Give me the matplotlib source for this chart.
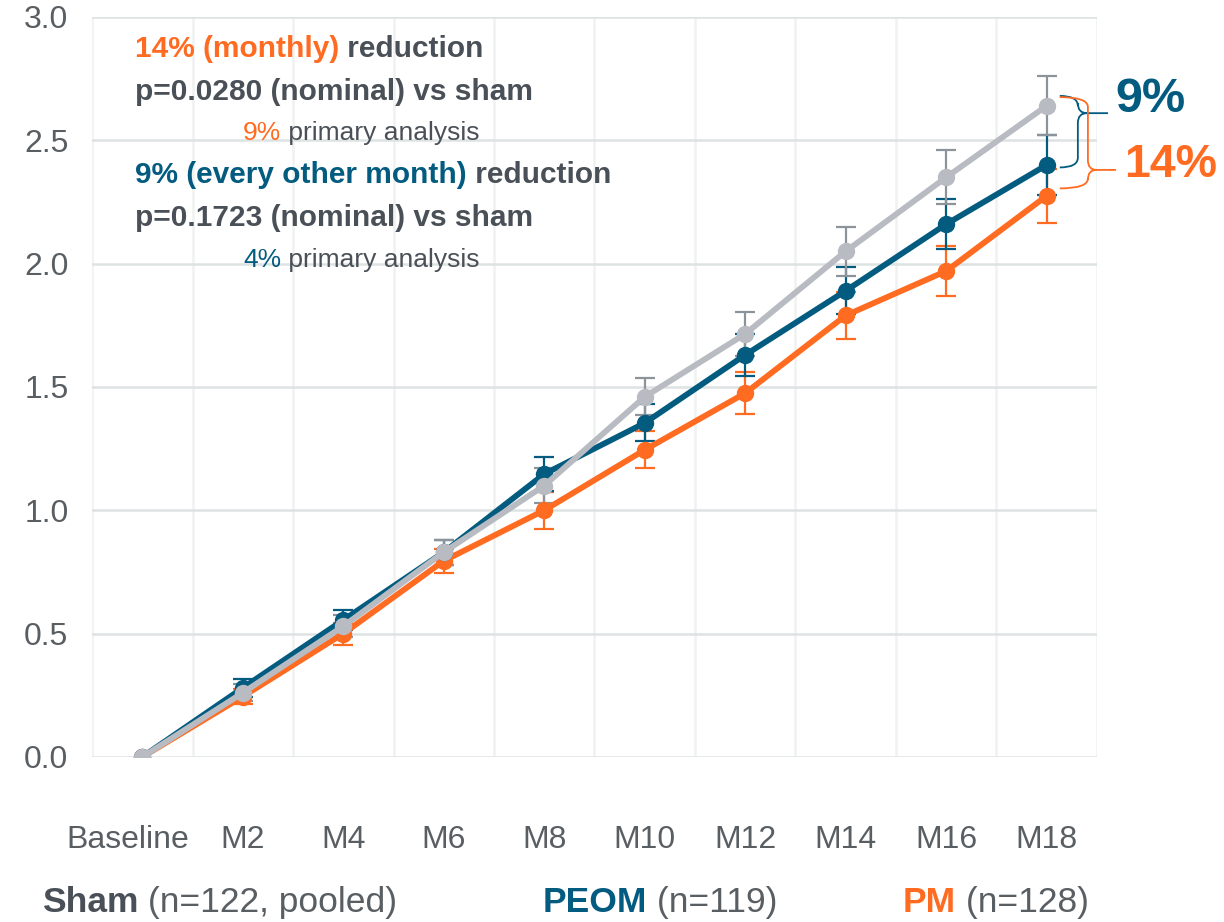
import numpy as np
import matplotlib.pyplot as plt
import matplotlib.transforms as mtransforms
from matplotlib.path import Path
from matplotlib.patches import PathPatch

# Datos
visitas = ['Baseline', 'M2', 'M4', 'M6', 'M8', 'M10', 'M12', 'M14', 'M16', 'M18']
sham = [0.0, 0.26, 0.53, 0.83, 1.10, 1.46, 1.715, 2.05, 2.35, 2.64]
peom = [0.0, 0.28, 0.555, 0.83, 1.147, 1.354, 1.63, 1.89, 2.16, 2.40]
pm = [0.0, 0.245, 0.50, 0.795, 1.0, 1.245, 1.475, 1.79, 1.97, 2.275]
err_sham = [0.0, 0.035, 0.045, 0.05, 0.07, 0.075, 0.09, 0.10, 0.11, 0.12]
err_peom = [0.0, 0.035, 0.04, 0.05, 0.07, 0.075, 0.085, 0.095, 0.10, 0.12]
err_pm = [0.0, 0.03, 0.045, 0.05, 0.075, 0.075, 0.085, 0.095, 0.10, 0.11]

naranja = '#ff6b21'
azul = '#035c80'
gris = '#b8bcc2'
gris_barra = '#8d939a'
texto = '#4a5057'
eje = '#595e63'

plt.rcParams['font.family'] = ['Liberation Sans', 'DejaVu Sans']

fig = plt.figure(figsize=(12.24, 9.22), dpi=100)
ax = fig.add_axes([0.0752, 0.179, 0.8210, 0.8026])

x = np.arange(len(visitas))

# Curvas: PM abajo, PEOM, Sham arriba
for y, e, c, ce in [(pm, err_pm, naranja, naranja),
                    (peom, err_peom, azul, azul),
                    (sham, err_sham, gris, gris_barra)]:
    ax.errorbar(x[1:], y[1:], yerr=e[1:], fmt='none', ecolor=ce,
                elinewidth=1.6, capsize=7, capthick=1.6, zorder=3)
    ax.plot(x, y, '-o', color=c, lw=4.2, ms=11.5, zorder=4)

ax.set_xlim(-0.5, 9.5)
ax.set_ylim(0, 3.0)
ax.set_yticks(np.arange(0, 3.01, 0.5))
ax.set_yticklabels(['{:.1f}'.format(v) for v in np.arange(0, 3.01, 0.5)])
ax.set_xticks(x)
ax.set_xticklabels(visitas)
ax.set_xticks(np.arange(-0.5, 9.6, 0.5), minor=True)
ax.tick_params(axis='both', length=0, labelsize=23, labelcolor=eje)
ax.tick_params(axis='y', pad=17)
ax.tick_params(axis='x', pad=49)
ax.tick_params(which='minor', length=0)
ax.grid(axis='x', which='minor', color='#f0f1f1', lw=1.8, zorder=0)
ax.grid(axis='y', which='major', color='#dde2e2', lw=1.8, zorder=0)
ax.set_axisbelow(True)
for s in ax.spines.values():
    s.set_visible(False)

# "Baseline" un poco corrido a la izquierda
lab0 = ax.get_xticklabels()[0]
lab0.set_transform(lab0.get_transform() +
                   mtransforms.ScaledTranslation(-15 / 100, 0, fig.dpi_scale_trans))

fig.canvas.draw()
rend = fig.canvas.get_renderer()


def linea(partes, x0, y0, size):
    """Escribe segmentos de texto con distintos colores uno al lado del otro (en pixeles)."""
    xp = x0
    for s, c, w in partes:
        t = fig.text(xp / 1224, 1 - y0 / 922, s, color=c, fontsize=size,
                     fontweight=w, va='center', ha='left')
        bb = t.get_window_extent(renderer=rend)
        xp += bb.width


linea([('14% (monthly)', naranja, 'bold'), (' reduction', texto, 'bold')], 135, 49, 21.5)
linea([('p=0.0280 (nominal) vs sham', texto, 'bold')], 135, 92, 21.5)
linea([('9%', naranja, 'normal'), (' primary analysis', texto, 'normal')], 243, 133, 19)
linea([('9% (every other month)', azul, 'bold'), (' reduction', texto, 'bold')], 135, 175, 21.5)
linea([('p=0.1723 (nominal) vs sham', texto, 'bold')], 135, 218, 21.5)
linea([('4%', azul, 'normal'), (' primary analysis', texto, 'normal')], 243, 260, 19)

# Leyenda inferior
linea([('Sham', texto, 'bold'), (' (n=122, pooled)', eje, 'normal')], 42, 902, 25.5)
linea([('PEOM', azul, 'bold'), (' (n=119)', eje, 'normal')], 543, 902, 25.5)
linea([('PM', naranja, 'bold'), (' (n=128)', eje, 'normal')], 903, 902, 25.5)


def llave(ax, xi, ya, yb, ypico, ancho, largo, color):
    """Llave vertical entre ya (arriba) y yb (abajo) con el pico en ypico, en coordenadas de datos."""
    xc = xi + ancho
    r = 0.04
    verts = [(xi, ya), (xc, ya), (xc, ya - r), (xc, ypico + r),
             (xc, ypico), (xc + largo * 0.3, ypico), (xc + largo, ypico),
             (xc + largo * 0.3, ypico), (xc, ypico), (xc, ypico - r),
             (xc, yb + r), (xc, yb), (xi, yb)]
    codes = [Path.MOVETO, Path.CURVE3, Path.CURVE3, Path.LINETO,
             Path.CURVE3, Path.CURVE3, Path.LINETO,
             Path.MOVETO, Path.CURVE3, Path.CURVE3,
             Path.LINETO, Path.CURVE3, Path.CURVE3]
    ax.add_patch(PathPatch(Path(verts, codes), fc='none', ec=color, lw=1.3,
                           clip_on=False, zorder=5))


llave(ax, 9.13, sham[-1] + 0.04, peom[-1] - 0.01, 2.61, 0.18, 0.3, azul)
llave(ax, 9.13, sham[-1] + 0.035, pm[-1] + 0.03, 2.38, 0.28, 0.28, naranja)
ax.text(9.68, 2.665, '9%', color=azul, fontsize=35, fontweight='bold',
        va='center', ha='left', clip_on=False)
ax.text(9.77, 2.40, '14%', color=naranja, fontsize=33.5, fontweight='bold',
        va='center', ha='left', clip_on=False)

fig.savefig('out.png', dpi=100)
